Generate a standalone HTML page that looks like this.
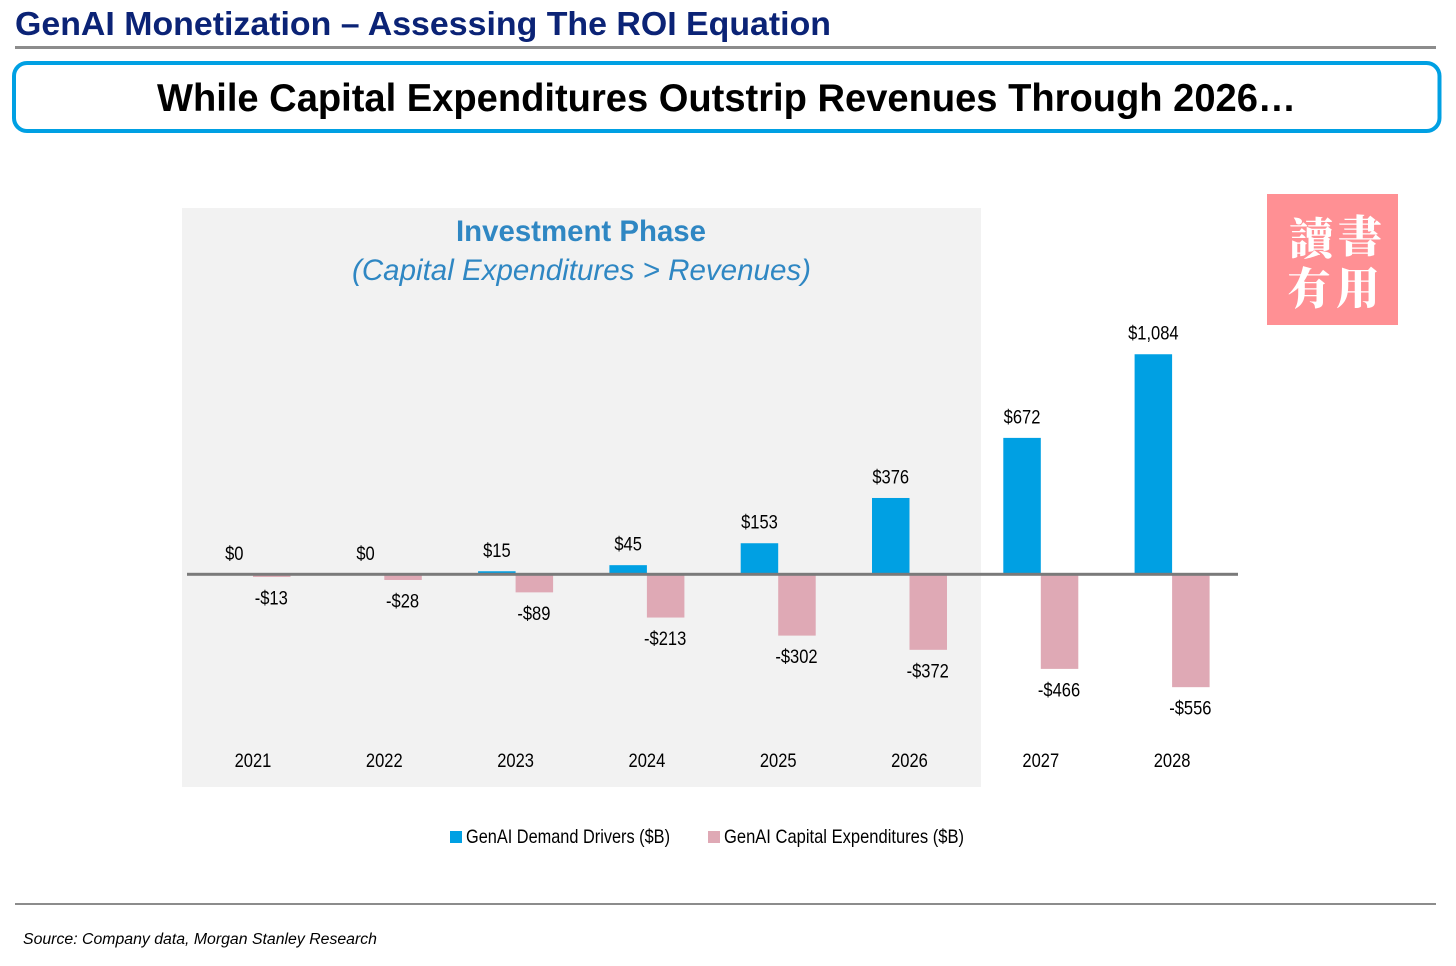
<!DOCTYPE html>
<html lang="en">
<head>
<meta charset="utf-8">
<title>GenAI Monetization – Assessing The ROI Equation</title>
<style>
html,body{margin:0;padding:0;background:#fff;width:1456px;height:966px;overflow:hidden}
svg{display:block;font-family:"Liberation Sans",Arial,sans-serif}
</style>
</head>
<body>
<svg id="chart" width="1456" height="966" viewBox="0 0 1456 966" xmlns="http://www.w3.org/2000/svg">
  <rect width="1456" height="966" fill="#fff"/>
  <text x="15" y="35" font-size="33" font-weight="700" fill="#0b2376" textLength="816" lengthAdjust="spacingAndGlyphs">GenAI Monetization – Assessing The ROI Equation</text>
  <rect x="15" y="46" width="1421" height="3" fill="#8c8c8c"/>
  <rect x="14" y="63" width="1425.5" height="68" rx="13" ry="13" fill="#fff" stroke="#00a0e3" stroke-width="4"/>
  <text x="157" y="111" font-size="39" font-weight="700" fill="#000" textLength="1139" lengthAdjust="spacingAndGlyphs">While Capital Expenditures Outstrip Revenues Through 2026…</text>

  <rect x="182" y="208" width="799" height="579" fill="#f2f2f2"/>
  <text x="456" y="241" font-size="30" font-weight="700" fill="#2f87c3" textLength="250" lengthAdjust="spacingAndGlyphs">Investment Phase</text>
  <text x="352" y="280" font-size="30" font-style="italic" fill="#2f87c3" textLength="459" lengthAdjust="spacingAndGlyphs">(Capital Expenditures &gt; Revenues)</text>

  <g id="plot"></g>

  <g>
    <g>
      <rect x="450" y="831" width="12" height="12" fill="#00a0e3"/>
      <text x="466" y="843" font-size="19.5" fill="#000" textLength="204" lengthAdjust="spacingAndGlyphs">GenAI Demand Drivers ($B)</text>
    </g>
    <g>
      <rect x="708" y="831" width="12" height="12" fill="#dfa9b5"/>
      <text x="724" y="843" font-size="19.5" fill="#000" textLength="240" lengthAdjust="spacingAndGlyphs">GenAI Capital Expenditures ($B)</text>
    </g>
  </g>

  <g>
    <rect x="1267" y="194" width="131" height="131" fill="#ff9094"/>
    <g font-family="'Noto Serif CJK TC','Noto Serif CJK SC',serif" font-size="44" font-weight="900" fill="#fff" text-anchor="middle">
      <text x="1360" y="252">書</text>
      <text x="1311" y="254">讀</text>
      <text x="1309" y="304">有</text>
      <text x="1358" y="304">用</text>
    </g>
  </g>

  <rect x="15" y="903" width="1421" height="2" fill="#8c8c8c"/>
  <text x="23" y="944" font-size="15.5" font-style="italic" fill="#000" textLength="354" lengthAdjust="spacingAndGlyphs">Source: Company data, Morgan Stanley Research</text>
</svg>
<script>
var years = ["2021","2022","2023","2024","2025","2026","2027","2028"];
var demandDrivers = [0,0,15,45,153,376,672,1084];
var capitalExpenditures = [-13,-28,-89,-213,-302,-372,-466,-556];

var SVG_NS = "http://www.w3.org/2000/svg";
var plot = document.getElementById("plot");
var baselineY = 574.3;
var pxPerUnit = 0.203;
var firstCenter = 253;
var categoryStep = 131.3;
var barWidth = 37.5;

function xScale(i){ return firstCenter + i * categoryStep; }
function yScale(v){ return baselineY - v * pxPerUnit; }
function money(v){ return (v < 0 ? "-$" : "$") + Math.abs(v).toLocaleString("en-US"); }

function addRect(x, y, w, h, fill){
  var r = document.createElementNS(SVG_NS, "rect");
  r.setAttribute("x", x);
  r.setAttribute("y", y);
  r.setAttribute("width", w);
  r.setAttribute("height", h);
  r.setAttribute("fill", fill);
  plot.appendChild(r);
  return r;
}
function addText(x, y, str){
  var t = document.createElementNS(SVG_NS, "text");
  t.setAttribute("transform", "translate(" + x + "," + y + ") scale(0.87,1)");
  t.setAttribute("text-anchor", "middle");
  t.setAttribute("font-size", "19");
  t.setAttribute("fill", "#000");
  t.textContent = str;
  plot.appendChild(t);
  return t;
}

years.forEach(function(year, i){
  var cx = xScale(i);

  var dv = demandDrivers[i];
  var dTop = yScale(dv);
  var bar = addRect(cx - barWidth, dTop, barWidth, baselineY - dTop, "#00a0e3");
  
  

  var dLabel = addText(cx - barWidth / 2, dTop - 14.5, money(dv));
  
  

  var cv = capitalExpenditures[i];
  var cBottom = yScale(cv);
  var cbar = addRect(cx, baselineY, barWidth, cBottom - baselineY, "#dfa9b5");
  
  

  var cLabel = addText(cx + barWidth / 2 - 0.5, cBottom + 27.5, money(cv));
  
  

  var tick = addText(cx, 767, year);
  
  
});

var axis = addRect(187, baselineY - 1.5, 1051, 3, "#7a7a7a");


</script>
</body>
</html>
